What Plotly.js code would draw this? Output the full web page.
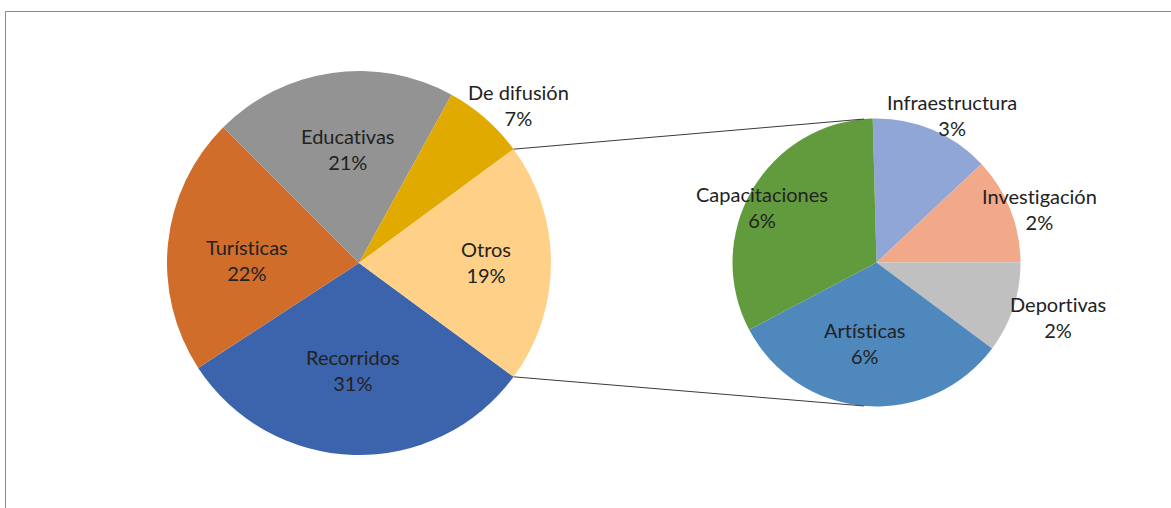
<!DOCTYPE html>
<html><head><meta charset="utf-8">
<script src="https://cdn.plot.ly/plotly-3.0.1.min.js"></script>
<style>html,body{margin:0;padding:0;background:#fff}#chart{width:1171px;height:508px}
svg text{font-variant-ligatures:none;font-feature-settings:"liga" 0,"clig" 0}</style>
</head><body><div id="chart"></div>
<script>
// ---- data ----
const mainLabels = ['Recorridos', 'Turísticas', 'Educativas', 'De difusión', 'Otros'];
const mainValues = [30.7, 21.7, 20.5, 6.9, 20.2];
const mainPctText = ['31%', '22%', '21%', '7%', '19%'];

const subLabels = ['Infraestructura', 'Investigación', 'Deportivas', 'Artísticas', 'Capacitaciones'];
const subValues = [2.71, 2.42, 2.06, 6.48, 6.53];
const subPctText = ['3%', '2%', '2%', '6%', '6%'];

// ---- styles ----
const mainColors = ['#3C64AC', '#D16D2B', '#939393', '#E1AA00', '#FED088'];
const subColors = ['#8FA6D6', '#F1A98A', '#C0C0C0', '#4F88BD', '#629B3E'];
const W = 1171, H = 508;
const mainGeo = {cx: 359, cy: 263, r: 192};
const subGeo = {cx: 876.5, cy: 262.5, r: 144};
// label placement: radial factor and angle offset (deg) per slice
const mainLabelK = [0.556, 0.581, 0.594, 1.17, 0.66];
const mainLabelDA = [1.5, -4.5, 2.5, 4.1, -0.5];
const subLabelK = [1.155, 1.19, 1.32, 0.567, 0.885];
const subLabelDA = [4.5, 3.5, -1.5, 3.8, -4.4];
const textColor = '#222222';
const fontFamily = 'Lato, "Liberation Sans", sans-serif';

const sum = a => a.reduce((s, v) => s + v, 0);
const mainTotal = sum(mainValues);
const otrosIdx = mainLabels.indexOf('Otros');
// Otros centred on the right (3 o'clock); first slice starts right after it
const mainRotation = 90 + (mainValues[otrosIdx] / mainTotal) * 180;
const subRotation = -1.5;

function sliceAngles(values, rotation) {
  const tot = sum(values);
  let a = rotation;
  return values.map(v => {
    const s = a; a += v / tot * 360;
    return {start: s, end: a, mid: (s + a) / 2};
  });
}
const px2x = px => px / W;
const py2y = py => 1 - py / H;
function polar(geo, angDeg, k) {
  const t = angDeg * Math.PI / 180;
  return {x: geo.cx + k * geo.r * Math.sin(t), y: geo.cy - k * geo.r * Math.cos(t)};
}
function domainOf(geo) {
  return {x: [px2x(geo.cx - geo.r), px2x(geo.cx + geo.r)],
          y: [py2y(geo.cy + geo.r), py2y(geo.cy - geo.r)]};
}

const mainAng = sliceAngles(mainValues, mainRotation);
const subAng = sliceAngles(subValues, subRotation);

const traces = [
  {type: 'pie', labels: mainLabels, values: mainValues, sort: false, direction: 'clockwise',
   rotation: mainRotation, domain: domainOf(mainGeo), textinfo: 'none', hoverinfo: 'none',
   marker: {colors: mainColors, line: {width: 0}}, showlegend: false},
  {type: 'pie', labels: subLabels, values: subValues, sort: false, direction: 'clockwise',
   rotation: subRotation, domain: domainOf(subGeo), textinfo: 'none', hoverinfo: 'none',
   marker: {colors: subColors, line: {width: 0}}, showlegend: false}
];

const annotations = [];
function addLabels(geo, labels, pcts, angs, ks, das) {
  labels.forEach((lab, i) => {
    const p = polar(geo, angs[i].mid + das[i], ks[i]);
    annotations.push({xref: 'paper', yref: 'paper', x: px2x(p.x), y: py2y(p.y),
      text: lab + '<br>' + pcts[i], showarrow: false, xanchor: 'center', yanchor: 'middle',
      align: 'center', font: {family: fontFamily, size: 20, color: textColor}});
  });
}
addLabels(mainGeo, mainLabels, mainPctText, mainAng, mainLabelK, mainLabelDA);
addLabels(subGeo, subLabels, subPctText, subAng, subLabelK, subLabelDA);

// connector lines: Otros edges -> top/bottom of the secondary pie
const oA = mainAng[otrosIdx];
const pTop0 = polar(mainGeo, oA.start, 1), pBot0 = polar(mainGeo, oA.end, 1);
const pTop1 = polar(subGeo, -5, 1), pBot1 = polar(subGeo, 185, 1);
const shapes = [
  {type: 'line', xref: 'paper', yref: 'paper', x0: px2x(pTop0.x), y0: py2y(pTop0.y),
   x1: px2x(pTop1.x), y1: py2y(pTop1.y), line: {color: '#3a3a3a', width: 1}},
  {type: 'line', xref: 'paper', yref: 'paper', x0: px2x(pBot0.x), y0: py2y(pBot0.y),
   x1: px2x(pBot1.x), y1: py2y(pBot1.y), line: {color: '#3a3a3a', width: 1}},
  {type: 'rect', xref: 'paper', yref: 'paper', x0: px2x(5.5), y0: py2y(11.5), x1: px2x(W + 10), y1: py2y(H + 10),
   line: {color: '#8a8a8a', width: 1}, fillcolor: 'rgba(0,0,0,0)', layer: 'below'}
];

Plotly.newPlot('chart', traces, {
  width: W, height: H, margin: {l: 0, r: 0, t: 0, b: 0},
  paper_bgcolor: '#fff', plot_bgcolor: '#fff',
  shapes: shapes, annotations: annotations, font: {family: fontFamily}
}, {staticPlot: true});
</script></body></html>
